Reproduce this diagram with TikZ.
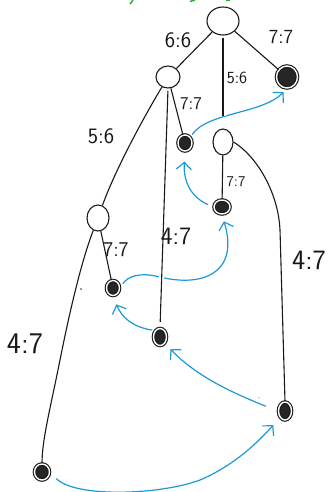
\documentclass[tikz,border=0pt]{standalone}
\usetikzlibrary{shapes.geometric,arrows.meta}
\definecolor{sblue}{RGB}{26,154,214}
\definecolor{sgreen}{RGB}{40,170,70}
\begin{document}
\begin{tikzpicture}[x=1pt,y=-1pt,
  inner/.style={ellipse,draw=black!90,line width=1.1pt,inner sep=0pt},
  leaf/.style={ellipse,draw=black!90,fill=black!85,double=white,double distance=1.4pt,line width=1.1pt,inner sep=0pt},
  edge/.style={line width=1.1pt,black!90},
  halo/.style={preaction={draw=white,line width=5pt}},
  arr/.style={sblue,line width=1.2pt,-{Straight Barb[length=7pt,width=15pt]}},
  lab/.style={font=\sffamily,inner sep=0pt,text=black!90}]
\useasboundingbox (0,0) rectangle (330,492);
% nodes
\node[inner,minimum width=32pt,minimum height=28pt] (root) at (223,21) {};
\node[inner,minimum width=24pt,minimum height=22pt] (A) at (168,77) {};
\node[leaf,minimum width=21pt,minimum height=22pt] (L1) at (287,77) {};
\node[inner,minimum width=20pt,minimum height=26pt] (B) at (223,142) {};
\node[leaf,minimum width=14pt,minimum height=16pt] (L2) at (185,143) {};
\node[inner,minimum width=22pt,minimum height=26pt] (D) at (98,218) {};
\node[leaf,minimum width=16pt,minimum height=14pt] (C) at (222,207) {};
\node[leaf,minimum width=13pt,minimum height=15pt] (E) at (113,288) {};
\node[leaf,minimum width=13pt,minimum height=17pt] (F) at (160,337) {};
\node[leaf,minimum width=13pt,minimum height=18pt] (G) at (285,411) {};
\node[leaf,minimum width=15pt,minimum height=16pt] (H) at (42,472) {};
% blue arrows
\draw[arr,shorten <=3pt,shorten >=5pt] (L2.north east) .. controls (208,112) and (262,114) .. (L1.south);
\draw[arr,shorten <=6pt,shorten >=10pt] (C.west) .. controls (193,198) and (183,184) .. (L2.south);
\draw[arr,shorten <=5pt,shorten >=7pt] (E.east) .. controls (128,276) and (140,272) .. (160,277) .. controls (200,287) and (240,275) .. (C.south);
\draw[arr,shorten <=3pt,shorten >=9pt] (F.north west) .. controls (133,327) and (122,318) .. (E.south);
\draw[arr,shorten <=13pt,shorten >=8pt] (G.west) .. controls (230,392) and (195,375) .. (F.south east);
\draw[arr,shorten <=9pt,shorten >=10pt] (H.east) .. controls (75,498) and (160,495) .. (200,480) .. controls (235,465) and (258,442) .. (G.south west);
% tree edges
\draw[edge] (root) -- (A);
\draw[edge] (root) -- (L1);
\draw[edge,halo,shorten <=2pt,shorten >=12pt] (root) -- (B);
\draw[edge] (A) .. controls (145,115) and (115,170) .. (D);
\draw[edge] (A) -- (L2);
\draw[edge,halo,shorten <=2pt,shorten >=6pt] (A.south) -- (F.north);
\draw[edge] (B) -- (C);
\draw[edge] (B.east) .. controls (255,155) and (278,190) .. (280,230) -- (G.north);
\draw[edge] (D) -- (E);
\draw[edge] (D) .. controls (80,265) and (68,320) .. (60,360) .. controls (50,410) and (42,440) .. (H);
% labels
\node[lab,font=\sffamily\fontsize{22}{22}\selectfont] (l66) at (178,40) {6:6};
\node[lab,font=\sffamily\fontsize{20}{20}\selectfont] (l77a) at (281,37) {7:7};
\node[lab,font=\sffamily\fontsize{17}{17}\selectfont] (l56a) at (237,78) {5:6};
\node[lab,font=\sffamily\fontsize{18}{18}\selectfont] (l77b) at (191,104) {7:7};
\node[lab,font=\sffamily\fontsize{22}{22}\selectfont] (l56b) at (101,136) {5:6};
\node[lab,font=\sffamily\fontsize{15}{15}\selectfont] (l77c) at (236,182) {7:7};
\node[lab,font=\sffamily\fontsize{21}{21}\selectfont] (l77d) at (116,250) {7:7};
\node[lab,font=\sffamily\fontsize{25}{25}\selectfont] (l47a) at (176,236) {4:7};
\node[lab,font=\sffamily\fontsize{28}{28}\selectfont] (l47b) at (309,260) {4:7};
\node[lab,font=\sffamily\fontsize{30}{30}\selectfont] (l47c) at (25,344) {4:7};
% stray marks
\draw[sgreen,line width=1.5pt] (130,4) -- (133,0);
\draw[sgreen,line width=1.5pt] (190,1.5) -- (195,0);
\draw[sgreen,line width=1.5pt] (226,0.5) -- (230,0);
\fill[black!80] (81,289) circle (0.8);
\fill[sblue] (259,398) circle (0.7);
\end{tikzpicture}
\end{document}
